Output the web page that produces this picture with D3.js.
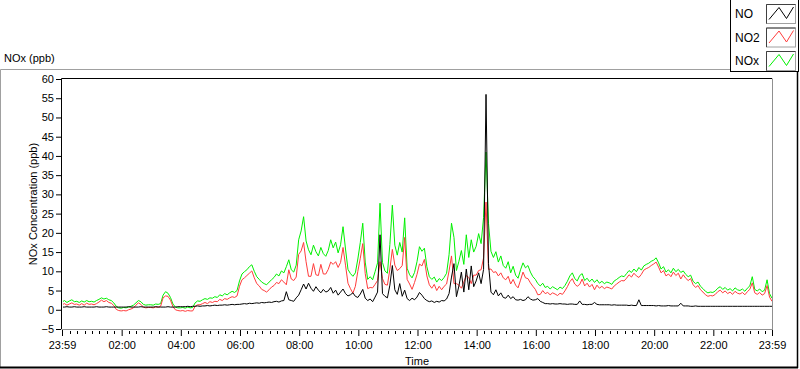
<!DOCTYPE html>
<html>
<head>
<meta charset="utf-8">
<script src="https://cdn.jsdelivr.net/npm/d3@7/dist/d3.min.js"></script>
<style>
html,body{margin:0;padding:0;background:#fff;}
svg{display:block;font-family:"Liberation Sans",Arial,sans-serif;}
</style>
</head>
<body>
<script>
// ---- data (5-minute samples, first sample at 23:59 of the previous day) ----
const startMinute = -1;
const stepMinutes = 5;
const seriesNames = ["NO", "NO2", "NOx"];
const seriesColors = ["#000000", "#ff3c3c", "#00f000"];

const noxValues = [
 2.0,2.4,1.9,2.3,2.6,2.1,2.2,1.9,2.3,2.0,2.4,2.1,
 2.2,2.0,2.4,2.7,3.1,2.8,3.0,2.6,2.4,1.8,0.9,0.5,
 0.4,0.6,0.5,0.7,0.9,1.2,1.8,2.4,2.1,1.4,1.2,1.3,
 1.3,1.2,1.5,1.4,1.6,3.8,4.7,4.3,3.2,1.5,0.7,0.5,
 0.5,0.6,0.4,0.7,0.5,0.6,1.8,2.3,2.2,2.6,2.9,2.7,
 3.1,3.0,3.4,3.2,3.9,3.6,4.2,3.9,4.4,4.8,4.5,5.0,
 7.5,9.3,9.9,10.4,11.2,11.7,10.0,8.6,7.9,7.2,6.8,6.5,
 7.2,7.8,8.4,9.3,8.8,10.1,9.6,11.2,13.0,10.4,9.8,11.6,
 18.2,20.5,24.2,17.9,15.6,14.3,16.8,15.1,14.0,16.2,14.6,13.9,
 15.4,18.2,16.1,17.6,14.8,16.9,21.6,15.8,10.5,9.4,8.7,9.6,
 13.2,17.5,22.5,12.4,7.9,8.6,7.8,9.9,12.2,27.7,12.3,10.1,
 9.5,17.0,27.2,16.8,14.2,17.5,15.0,23.9,10.8,9.1,8.3,9.7,
 12.5,16.4,15.2,16.0,11.2,8.6,7.9,8.5,7.2,8.1,7.6,8.4,
 9.5,14.3,22.5,18.8,10.2,12.6,15.4,11.8,19.5,13.6,18.2,15.0,
 16.5,19.8,17.2,24.0,41.0,22.5,15.2,13.6,15.1,12.4,14.0,11.5,
 10.8,12.5,9.6,11.3,9.0,8.2,10.4,12.2,10.9,11.5,9.8,8.6,
 7.9,6.8,6.2,6.9,5.8,6.1,5.4,6.0,5.6,5.2,5.9,5.5,
 6.3,7.4,8.8,9.6,8.1,7.5,8.9,9.4,7.6,8.2,7.3,8.0,
 7.1,7.8,6.9,7.4,6.8,7.2,7.0,6.6,7.5,7.9,8.4,8.8,
 8.6,9.4,10.2,9.7,10.6,9.9,11.0,10.3,11.4,11.8,12.1,12.6,
 12.9,13.5,12.2,10.6,11.2,9.8,10.4,9.6,10.8,9.9,10.5,9.7,
 10.1,9.2,8.6,9.0,7.4,6.8,7.2,6.1,5.5,4.8,4.4,4.6,
 4.5,4.9,5.6,6.0,5.3,5.8,5.1,5.5,4.9,5.7,5.2,5.0,
 5.4,4.8,5.6,6.2,8.6,5.3,4.9,5.4,4.7,5.1,7.8,4.2,
 3.0
];

const no2Values = [
 1.3,1.6,1.2,1.5,1.8,1.4,1.5,1.2,1.6,1.2,1.7,1.4,
 1.5,1.3,1.6,2.0,2.5,2.1,2.4,1.9,1.7,1.1,0.1,-0.2,
 -0.3,-0.2,-0.3,0.0,0.2,0.5,1.2,1.8,1.4,0.7,0.5,0.6,
 0.6,0.5,0.7,0.7,0.9,3.1,3.6,3.5,2.5,0.8,0.0,-0.2,
 -0.3,-0.2,-0.4,-0.2,-0.3,-0.3,0.9,1.3,1.3,1.6,1.9,1.6,
 2.1,1.9,2.2,2.1,2.7,2.4,2.9,2.7,3.1,3.4,3.2,3.6,
 6.1,7.8,8.3,8.9,9.5,10.1,8.3,6.8,6.2,5.3,5.0,4.6,
 5.2,5.9,6.3,7.1,6.8,7.8,7.2,6.5,10.4,8.0,7.6,8.5,
 14.4,15.3,17.5,12.5,8.7,8.7,12.0,9.1,8.9,11.8,9.3,9.3,
 10.5,12.4,11.8,12.5,11.0,12.3,16.2,11.6,6.9,5.5,4.3,6.1,
 10.0,13.4,17.2,9.4,5.5,5.8,5.7,6.6,7.6,12.5,8.1,6.6,
 6.4,10.6,15.7,11.6,10.2,10.7,11.5,18.8,7.9,6.7,5.3,7.1,
 9.2,11.9,11.4,13.1,8.8,6.5,5.6,6.6,5.0,6.1,5.2,6.1,
 6.7,10.1,14.0,6.8,6.8,6.4,5.6,7.2,8.9,8.4,6.8,9.0,
 9.0,10.2,10.4,13.5,28.0,10.5,10.6,9.7,9.9,8.8,9.6,8.3,
 7.8,8.7,6.7,7.9,6.4,5.7,7.7,9.8,8.3,8.1,7.0,6.1,
 5.3,3.9,4.0,5.0,4.2,4.5,3.9,4.4,4.1,3.7,4.3,4.0,
 4.9,6.0,7.3,8.1,6.7,6.1,6.6,8.0,6.2,6.9,5.9,6.6,
 5.2,6.4,5.6,6.1,5.5,5.9,5.7,5.4,6.2,6.7,7.2,7.6,
 7.5,8.2,9.1,8.5,9.5,8.8,8.4,9.2,10.3,10.7,11.0,11.5,
 11.9,12.4,11.1,9.6,10.2,8.8,9.3,8.6,9.8,8.9,9.5,8.0,
 9.1,8.2,7.6,8.1,6.5,5.8,6.3,5.2,4.6,3.9,3.5,3.7,
 3.6,4.0,4.7,5.1,4.4,4.9,4.2,4.6,4.0,4.8,4.3,4.1,
 4.5,3.9,4.7,5.3,7.0,4.4,4.0,4.5,3.8,4.2,6.3,3.3,
 2.2
];

const noValues = [
 0.7,0.7,0.8,0.7,0.7,0.8,0.7,0.7,0.7,0.8,0.7,0.7,
 0.7,0.7,0.8,0.7,0.7,0.7,0.8,0.7,0.7,0.7,0.7,0.7,
 0.7,0.7,0.7,0.8,0.7,0.7,0.7,0.7,0.8,0.7,0.7,0.7,
 0.7,0.7,0.8,0.7,0.7,0.7,0.7,0.8,0.7,0.7,0.7,0.8,
 0.8,0.8,0.8,0.9,0.8,0.9,0.9,1.0,0.9,1.0,1.0,1.1,
 1.0,1.1,1.2,1.1,1.2,1.2,1.3,1.2,1.3,1.4,1.3,1.4,
 1.4,1.5,1.6,1.5,1.7,1.6,1.7,1.8,1.7,1.9,1.8,1.9,
 2.0,1.9,2.1,2.2,2.0,2.3,2.4,4.7,2.6,2.4,2.2,3.1,
 3.8,5.2,6.7,5.4,6.9,5.6,4.8,6.0,5.1,4.4,5.3,4.6,
 4.9,5.8,4.3,5.1,3.8,4.6,5.4,4.2,3.6,3.9,4.4,3.5,
 3.2,4.1,5.3,3.0,2.4,2.8,2.1,3.3,4.6,19.5,4.2,3.5,
 3.1,6.4,11.5,5.2,4.0,6.8,3.5,5.1,2.9,2.4,3.0,2.6,
 3.3,4.5,3.8,2.9,2.4,2.1,2.3,1.9,2.2,2.0,2.4,2.3,
 2.8,4.2,8.5,12.0,3.4,6.2,9.8,4.6,10.6,5.2,11.4,6.0,
 7.5,9.6,6.8,10.5,56.0,12.0,4.6,3.9,5.2,3.6,4.4,3.2,
 3.0,3.8,2.9,3.4,2.6,2.5,2.7,2.4,2.6,3.4,2.8,2.5,
 2.6,2.9,2.2,1.9,1.6,1.6,1.5,1.6,1.5,1.5,1.6,1.5,
 1.5,1.4,1.5,1.5,1.4,1.4,2.3,1.4,1.4,1.3,1.4,1.4,
 1.9,1.4,1.3,1.3,1.3,1.3,1.3,1.2,1.3,1.2,1.2,1.2,
 1.2,1.2,1.1,1.2,1.1,1.1,2.6,1.1,1.1,1.1,1.1,1.1,
 1.1,1.0,1.1,1.0,1.0,1.0,1.1,1.0,1.0,1.0,1.0,1.7,
 1.0,1.0,1.0,0.9,0.9,1.0,0.9,0.9,0.9,0.9,0.9,0.9,
 0.9,0.9,0.9,0.9,0.9,0.9,0.9,0.9,0.9,0.9,0.9,0.9,
 0.9,0.9,0.9,0.9,0.9,0.9,0.9,0.9,0.9,0.9,0.9,0.9,
 0.9
];

const yTickValues = [-5,0,5,10,15,20,25,30,35,40,45,50,55,60];
const xTickMinutes = [-1,120,240,360,480,600,720,840,960,1080,1200,1320,1439];
const xTickLabels = ["23:59","02:00","04:00","06:00","08:00","10:00","12:00","14:00","16:00","18:00","20:00","22:00","23:59"];

// ---- layout ----
const W = 800, H = 369;
const plot = {left: 62, right: 772, top: 79, bottom: 329};
const FONT = 11;

const svg = d3.select("body").append("svg").attr("width", W).attr("height", H);

// outer panel border
svg.append("line").attr("x1",0.5).attr("x2",730).attr("y1",69.5).attr("y2",69.5).attr("stroke","#a0a0a0");
svg.append("line").attr("x1",0.5).attr("x2",0.5).attr("y1",69.5).attr("y2",368).attr("stroke","#a0a0a0");
svg.append("line").attr("x1",0).attr("x2",798).attr("y1",367.5).attr("y2",367.5).attr("stroke","#000").attr("stroke-width",2);
svg.append("line").attr("x1",797.5).attr("x2",797.5).attr("y1",71).attr("y2",368).attr("stroke","#000").attr("stroke-width",1.5);

// title
svg.append("text").attr("x",4).attr("y",62).attr("font-size",FONT).attr("fill","#000").text("NOx (ppb)");

// scales
const x = d3.scaleLinear().domain([xTickMinutes[0], xTickMinutes[xTickMinutes.length-1]]).range([plot.left, plot.right]);
const y = d3.scaleLinear().domain([yTickValues[0], yTickValues[yTickValues.length-1]]).range([plot.bottom, plot.top]);

// plot background
svg.append("rect").attr("x",plot.left).attr("y",plot.top).attr("width",plot.right-plot.left).attr("height",plot.bottom-plot.top).attr("fill","#fff");

svg.append("clipPath").attr("id","clip").append("rect")
  .attr("x",plot.left+1).attr("y",plot.top-20).attr("width",plot.right-plot.left-1).attr("height",plot.bottom-plot.top+19);

// series
const timeOf = i => startMinute + i*stepMinutes;
const seriesData = [noValues, no2Values, noxValues];
const lineGen = d3.line().x((d,i)=>x(timeOf(i))).y(d=>y(d));
const g = svg.append("g").attr("clip-path","url(#clip)");
[2,1,0].forEach(k=>{
  g.append("path").datum(seriesData[k]).attr("d",lineGen)
    .attr("fill","none").attr("stroke",seriesColors[k]).attr("stroke-width",1);
});

// frame
svg.append("line").attr("x1",plot.left-0.5).attr("x2",plot.right).attr("y1",plot.top-0.5).attr("y2",plot.top-0.5).attr("stroke","#000");
svg.append("line").attr("x1",plot.left-0.5).attr("x2",plot.left-0.5).attr("y1",plot.top-0.5).attr("y2",plot.bottom).attr("stroke","#000");
svg.append("line").attr("x1",plot.right+0.5).attr("x2",plot.right+0.5).attr("y1",plot.top-0.5).attr("y2",plot.bottom+0.5).attr("stroke","#909090");
svg.append("line").attr("x1",plot.left-0.5).attr("x2",plot.right+1).attr("y1",plot.bottom+0.5).attr("y2",plot.bottom+0.5).attr("stroke","#909090");

// y axis
const yAxis = d3.axisLeft(y).tickValues(yTickValues).tickSize(5).tickPadding(2).tickFormat(d3.format("d"));
const yg = svg.append("g").attr("transform",`translate(${plot.left-1},0)`).call(yAxis);
yg.select(".domain").remove();
yg.selectAll("line").attr("stroke","#000");
yg.selectAll("text").attr("font-size",FONT).attr("font-family","Liberation Sans, Arial, sans-serif").attr("fill","#000");

// x axis (major)
const xAxis = d3.axisBottom(x).tickValues(xTickMinutes).tickSize(6).tickPadding(5)
  .tickFormat((d,i)=>xTickLabels[i]);
const xg = svg.append("g").attr("transform",`translate(0,${plot.bottom+1})`).call(xAxis);
xg.select(".domain").remove();
xg.selectAll("line").attr("stroke","#000");
xg.selectAll("text").attr("font-size",FONT).attr("font-family","Liberation Sans, Arial, sans-serif").attr("fill","#000");

// minor ticks every 15 minutes
const minorMinutes = d3.range(15, 1439, 15).filter(m => m % 120 !== 0);
svg.append("g").selectAll("line").data(minorMinutes).join("line")
  .attr("x1",d=>Math.round(x(d))+0.5).attr("x2",d=>Math.round(x(d))+0.5)
  .attr("y1",plot.bottom+2).attr("y2",plot.bottom+5).attr("stroke","#000");

// axis titles
svg.append("text").attr("x",(plot.left+plot.right)/2).attr("y",365).attr("text-anchor","middle")
  .attr("font-size",FONT).attr("fill","#000").text("Time");
svg.append("text").attr("transform",`translate(37,${(plot.top+plot.bottom)/2}) rotate(-90)`)
  .attr("text-anchor","middle").attr("font-size",FONT).attr("fill","#000").text("NOx Concentration (ppb)");

// legend
const lg = svg.append("g");
lg.append("rect").attr("x",730.5).attr("y",-1).attr("width",68).attr("height",72.5).attr("fill","#fff").attr("stroke","#000");
const legendOrder = [0,1,2];
legendOrder.forEach((k,i)=>{
  const cy = 14 + i*23.5;
  lg.append("text").attr("x",735).attr("y",cy+4).attr("font-size",FONT+1).attr("fill","#000").text(seriesNames[k]);
  const sx = 766.5, sy = cy - 9.5;
  lg.append("rect").attr("x",sx).attr("y",sy).attr("width",29).attr("height",19).attr("fill","#fff").attr("stroke","#a0a0a0");
  lg.append("path").attr("d",`M${sx},${sy+19}V${sy}H${sx+29}`).attr("fill","none").attr("stroke","#404040");
  lg.append("path").attr("d",`M${sx+2.5},${sy+15} L${sx+12.5},${sy+3} L${sx+20},${sy+14} L${sx+27},${sy+2.5}`)
    .attr("fill","none").attr("stroke",seriesColors[k]).attr("stroke-width",1);
});
</script>
</body>
</html>
